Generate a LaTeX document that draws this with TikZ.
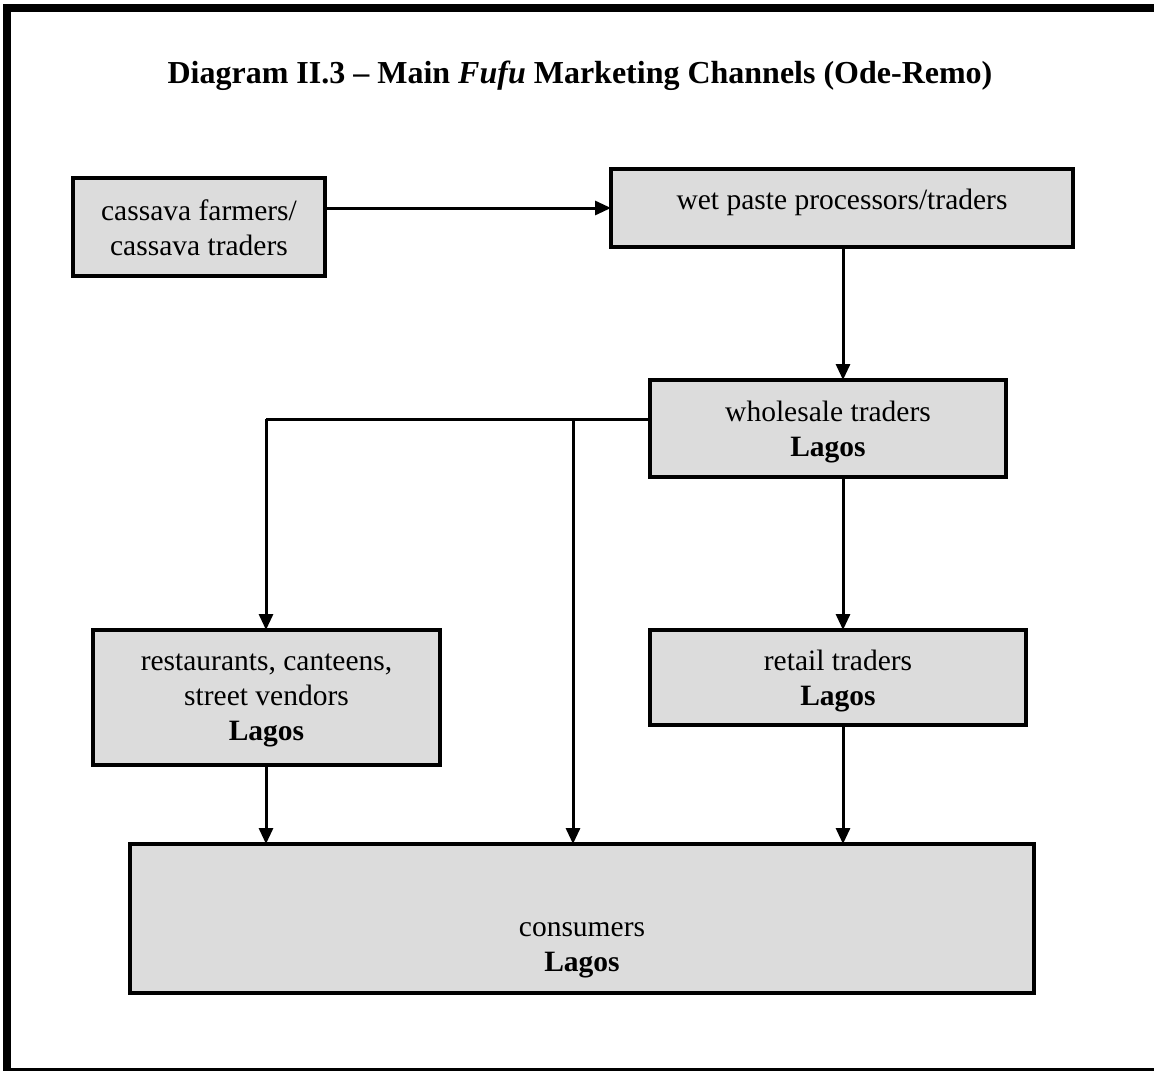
\documentclass[tikz,border=0pt]{standalone}
\usepackage{fontspec}
\setmainfont{Liberation Serif}
\usetikzlibrary{arrows.meta}
\begin{document}
\begin{tikzpicture}[x=1pt,y=-1pt,
  box/.style={draw=black, line width=4.5pt, fill=boxgray, inner sep=0pt, outer sep=0pt},
  txt/.style={align=center, inner sep=0pt, font=\fontsize{29.5}{35}\selectfont},
  flow/.style={line width=3pt, -{Triangle[length=16pt,width=14pt]}},
  link/.style={line width=3pt}]
\definecolor{boxgray}{HTML}{DCDCDC}
\useasboundingbox (0,0) rectangle (1154,1071);
% page frame: heavy left and top rules, light bottom rule
\fill[black] (3,4) rectangle (11,1070);
\fill[black] (3,4) rectangle (1154,12);
\fill[black] (3,1068) rectangle (1154,1070.5);
% title
\node[inner sep=0pt, font=\fontsize{32}{38}\selectfont\bfseries] (title) at (580,76)
  {Diagram II.3 -- Main \textit{Fufu} Marketing Channels (Ode-Remo)};
% boxes
\node[box, minimum width=252pt, minimum height=98pt] (A) at (199,227) {};
\node[box, minimum width=462pt, minimum height=78pt] (B) at (842,208) {};
\node[box, minimum width=356pt, minimum height=97pt] (C) at (828,428.5) {};
\node[box, minimum width=347pt, minimum height=135pt] (D) at (266.5,697.5) {};
\node[box, minimum width=376pt, minimum height=95pt] (E) at (838,677.5) {};
\node[box, minimum width=904pt, minimum height=149pt] (F) at (582,918.5) {};
% box texts
\node[txt] (At) at (199,228) {cassava farmers/\\cassava traders};
\node[txt] (Bt) at (842,202) {wet paste processors/traders};
\node[txt] (Ct) at (828,432) {wholesale traders\\\textbf{Lagos}};
\node[txt] (Dt) at (266.5,700) {restaurants, canteens,\\street vendors\\\textbf{Lagos}};
\node[txt] (Et) at (838,681) {retail traders\\\textbf{Lagos}};
\node[txt] (Ft) at (582,950) {consumers\\\textbf{Lagos}};
% junction points on the distribution line
\coordinate (cx) at (843,0);
\coordinate (jl) at (266,419);
\coordinate (jm) at (573,419);
% connectors
\draw[flow] (B.west -| A.east) -- (B.west);
\draw[flow] (B.south -| cx) -- (C.north -| cx);
\draw[flow] (C.south -| cx) -- (E.north -| cx);
\draw[flow] (E.south -| cx) -- (F.north -| cx);
\draw[link] (C.west |- jl) -- (jl);
\draw[flow] (jl) -- (D.north -| jl);
\draw[flow] (jm) -- (F.north -| jm);
\draw[flow] (D.south -| jl) -- (F.north -| jl);
\end{tikzpicture}
\end{document}
